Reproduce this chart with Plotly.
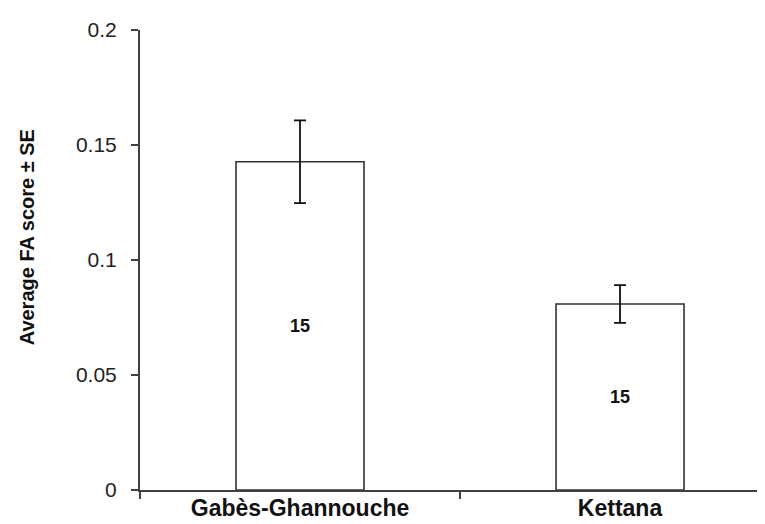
import plotly.graph_objects as go

categories = ["Gabès-Ghannouche", "Kettana"]
means = [0.1427, 0.0809]
se = [0.0180, 0.0082]
n_labels = ["15", "15"]
y_ticks = [0, 0.05, 0.1, 0.15, 0.2]
y_tick_text = ["0", "0.05", "0.1", "0.15", "0.2"]

fig = go.Figure()
fig.add_trace(go.Bar(
    x=categories,
    y=means,
    width=0.4,
    marker=dict(color="white", line=dict(color="#333333", width=1.6)),
    error_y=dict(type="data", array=se, visible=True, color="#111111",
                 thickness=1.8, width=6),
    text=n_labels,
    textposition="inside",
    insidetextanchor="middle",
    textangle=0,
    textfont=dict(family="Arial, Liberation Sans, sans-serif", size=18, color="#111111",
                  weight="bold"),
    cliponaxis=False,
))

fig.update_layout(
    width=765, height=524,
    margin=dict(l=132, r=0, t=22, b=42),
    paper_bgcolor="white", plot_bgcolor="white",
    showlegend=False,
    bargap=0.6,
)

fig.update_xaxes(
    type="category",
    range=[-0.5, 1.478],
    showline=True, linecolor="#404040", linewidth=2,
    ticks="outside", tickson="boundaries", ticklen=7, tickwidth=2, tickcolor="#404040",
    showgrid=False, zeroline=False,
    ticklabelstandoff=-4,
    tickfont=dict(family="Arial, Liberation Sans, sans-serif", size=23, color="#111111",
                  weight="bold"),
)

fig.update_yaxes(
    range=[0, 0.2],
    tickvals=y_ticks, ticktext=y_tick_text,
    showline=True, linecolor="#404040", linewidth=2,
    ticks="outside", ticklen=7, tickwidth=2, tickcolor="#404040",
    showgrid=False, zeroline=False,
    ticklabelstandoff=10,
    tickfont=dict(family="Arial, Liberation Sans, sans-serif", size=21, color="#222222"),
)

fig.add_annotation(
    text="Average FA score ± SE",
    xref="paper", yref="paper",
    x=-0.178, y=0.55,
    xanchor="center", yanchor="middle",
    textangle=-90, showarrow=False,
    font=dict(family="Arial, Liberation Sans, sans-serif", size=20, color="#111111",
              weight="bold"),
)

fig.write_html("out.html")
